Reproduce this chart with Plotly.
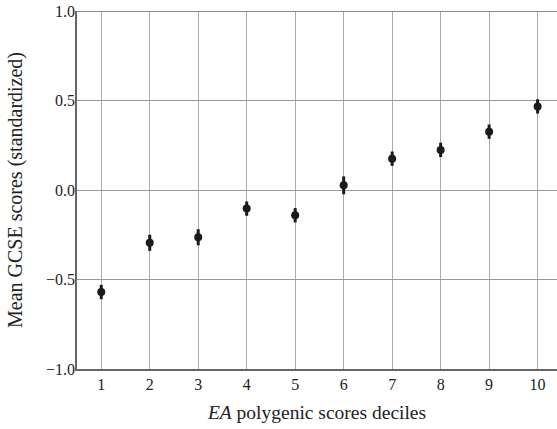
import plotly.graph_objects as go

deciles = [1, 2, 3, 4, 5, 6, 7, 8, 9, 10]
mean_scores = [-0.57, -0.295, -0.264, -0.104, -0.141, 0.026, 0.175, 0.224, 0.326, 0.467]
err = [0.04, 0.045, 0.045, 0.04, 0.04, 0.05, 0.04, 0.04, 0.04, 0.04]
y_ticks = [-1.0, -0.5, 0.0, 0.5, 1.0]
y_tick_labels = ["−1.0", "−0.5", "0.0", "0.5", "1.0"]

font = "Liberation Serif"
txt = "#222"

fig = go.Figure()
fig.add_trace(go.Scatter(
    x=deciles, y=mean_scores, mode="markers",
    marker=dict(color="#1a1a1a", size=8),
    error_y=dict(type="data", array=err, visible=True, color="#1a1a1a", thickness=3, width=0),
    showlegend=False,
))

fig.update_layout(
    width=557, height=429,
    margin=dict(l=77, r=0, t=11, b=60, pad=0),
    paper_bgcolor="white", plot_bgcolor="white",
    font=dict(family=font, size=16, color=txt),
    xaxis=dict(
        range=[0.5, 10.4], tickvals=deciles, ticktext=[str(d) for d in deciles],
        showgrid=True, gridcolor="#aaaaaa", gridwidth=1,
        showline=True, linecolor="#666", linewidth=1.5,
        ticks="", zeroline=False,
        title=dict(text="<i>EA</i> polygenic scores deciles", font=dict(family=font, size=19.5, color=txt), standoff=13),
        tickfont=dict(family=font, size=16, color=txt),
    ),
    yaxis=dict(
        range=[-1.0, 1.0], tickvals=y_ticks, ticktext=y_tick_labels,
        showgrid=True, gridcolor="#999999", gridwidth=1,
        showline=True, linecolor="#666", linewidth=1.5, mirror=False,
        ticks="", zeroline=False, ticklabelstandoff=-3,
        title=dict(text="Mean GCSE scores (standardized)", font=dict(family=font, size=20, color=txt), standoff=18),
        tickfont=dict(family=font, size=16, color=txt),
    ),
)
fig.add_shape(type="line", xref="paper", yref="y", x0=0, x1=1, y0=1.0, y1=1.0,
              line=dict(color="#666", width=1.5))

fig.write_html("out.html", config={"displayModeBar": False},
               post_script="document.body.style.margin='0';document.body.style.padding='0';")
